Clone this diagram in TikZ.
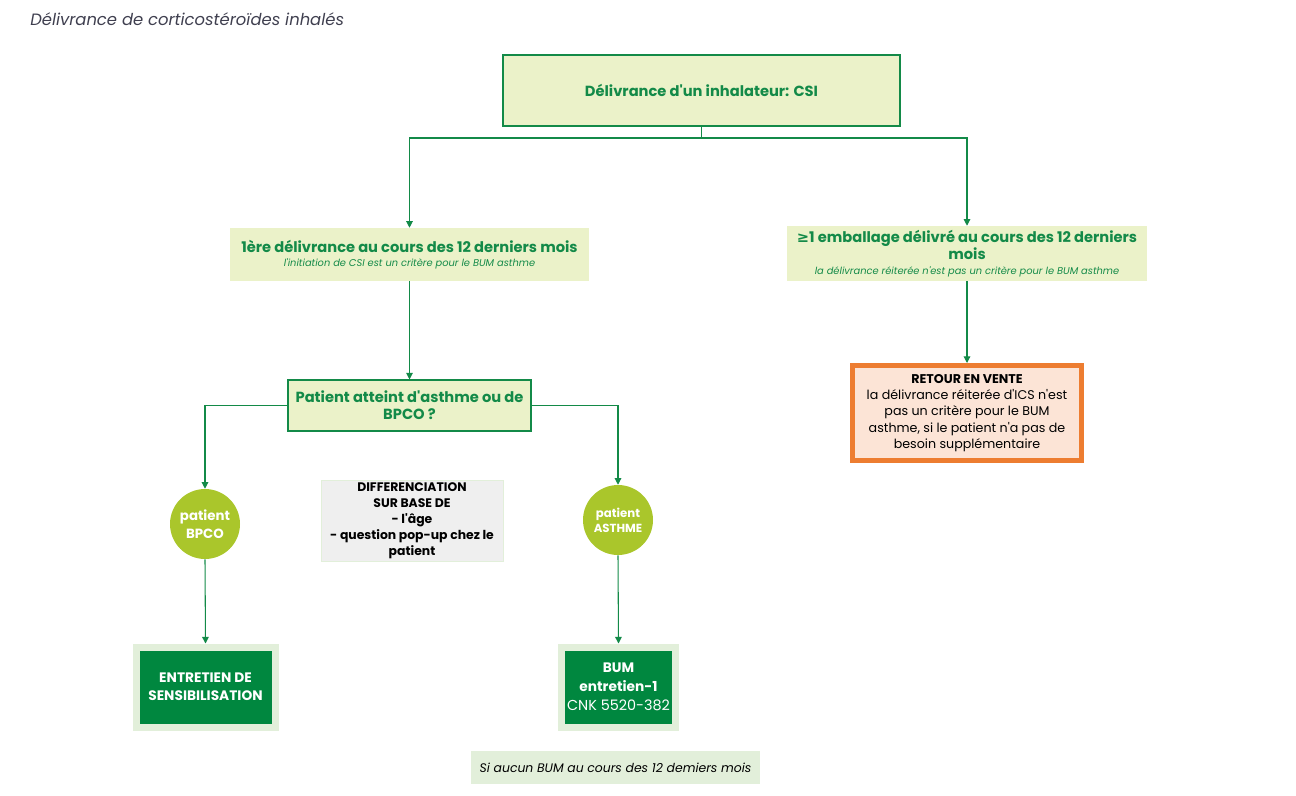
\documentclass[tikz,border=0pt]{standalone}
\usepackage{fontspec}
\setmainfont{Poppins}[Ligatures=TeXOff]
\newfontfamily\symfont{DejaVu Sans}
\usetikzlibrary{arrows.meta}

\definecolor{lgreen}{HTML}{138A48}
\definecolor{boxfill}{HTML}{EBF2C9}
\definecolor{circfill}{HTML}{AAC62B}
\definecolor{darkbox}{HTML}{00873F}
\definecolor{palebox}{HTML}{E2EFDA}
\definecolor{orangeline}{HTML}{ED7D31}
\definecolor{orangefill}{HTML}{FCE4D6}
\definecolor{greybox}{HTML}{EFEFEF}
\definecolor{titlegrey}{HTML}{3F3F4F}

\newcommand{\subnote}{\mdseries\itshape\fontsize{7.4}{8.5}\selectfont}

\begin{document}
\begin{tikzpicture}[x=0.75pt,y=-0.75pt,
  every node/.style={inner sep=0pt, align=center},
  flowbox/.style={rectangle, fill=boxfill, text=lgreen, font=\bfseries\fontsize{11}{12.8}\selectfont},
  roundbox/.style={circle, fill=circfill, text=white, minimum size=52.5pt, font=\bfseries\fontsize{10}{13.5}\selectfont},
  endbox/.style={rectangle, fill=darkbox, draw=palebox, line width=5.25pt, text=white, font=\bfseries\fontsize{10.3}{13.5}\selectfont},
  link/.style={draw=lgreen, line width=0.8pt},
  arr/.style={link, -{Triangle[length=5pt,width=5pt]}}
]
\useasboundingbox (0,0) rectangle (1296,796);

\node (title) [anchor=west, text=titlegrey, font=\itshape\fontsize{12.3}{14}\selectfont] at (30,19) {Délivrance de corticostéroïdes inhalés};

\node (csi) [flowbox, draw=lgreen, line width=0.8pt, minimum width=297.75pt, minimum height=53.25pt] at (701.5,90.5) {Délivrance d'un inhalateur: CSI};
\node (first) [flowbox, minimum width=269.25pt, minimum height=39.75pt] at (409.5,254.5) {1ère délivrance au cours des 12 derniers mois\\[-2pt]{\subnote l'initiation de CSI est un critère pour le BUM asthme}};
\node (repeat) [flowbox, minimum width=270pt, minimum height=41.25pt] at (967,253.5) {{\symfont ≥}1 emballage délivré au cours des 12 derniers\\mois\\[-2pt]{\subnote la délivrance réiterée n'est pas un critère pour le BUM asthme}};
\node (ask) [flowbox, draw=lgreen, line width=0.8pt, minimum width=182.25pt, minimum height=38.25pt] at (409.5,405.5) {Patient atteint d'asthme ou de\\BPCO ?};

\node (bpco) [roundbox] at (205,524) {patient\\BPCO};
\node (asthme) [roundbox, font=\bfseries\fontsize{8.8}{11.3}\selectfont] at (618,520) {patient\\ASTHME};
\node (diff) [rectangle, fill=greybox, draw=palebox, line width=0.6pt, minimum width=136.5pt, minimum height=60.75pt, font=\bfseries\fontsize{9.3}{12}\selectfont] at (412,520.5) {DIFFERENCIATION\\SUR BASE DE\\- l'âge\\- question pop-up chez le\\patient};

\node (sensib) [endbox, minimum width=104.25pt, minimum height=60pt] at (205.5,687) {ENTRETIEN DE\\SENSIBILISATION};
\node (bum) [endbox, minimum width=85.5pt, minimum height=60pt, font=\bfseries\fontsize{10.3}{14.2}\selectfont] at (618.5,687) {BUM\\entretien-1\\{\mdseries\fontsize{10.8}{14.2}\selectfont CNK 5520-382}};

\node (retour) [rectangle, fill=orangefill, draw=orangeline, line width=3.75pt, minimum width=171.75pt, minimum height=71.25pt, font=\fontsize{9.5}{12.2}\selectfont] at (967,413) {{\bfseries RETOUR EN VENTE}\\la délivrance réiterée d'ICS n'est\\pas un critère pour le BUM\\asthme, si le patient n'a pas de\\besoin supplémentaire};

\node (note) [rectangle, fill=palebox, minimum width=216.75pt, minimum height=24.75pt, font=\itshape\fontsize{9.3}{10}\selectfont] at (615.5,767.5) {Si aucun BUM au cours des 12 demiers mois};

\coordinate (split) at (701.5,138);
\draw[link] (csi.south) -- (split);
\draw[arr] (split) -| (first.north);
\draw[arr] (split) -| (repeat.north);
\draw[arr] (first.south) -- (ask.north);
\draw[arr] (repeat.south) -- (retour.north);
\draw[arr] (ask.west) -| (bpco.north);
\draw[arr] (ask.east) -| (asthme.north);
\draw[arr] (bpco.south) -- (sensib.north);
\draw[arr] (asthme.south) -- (bum.north);
\end{tikzpicture}
\end{document}
